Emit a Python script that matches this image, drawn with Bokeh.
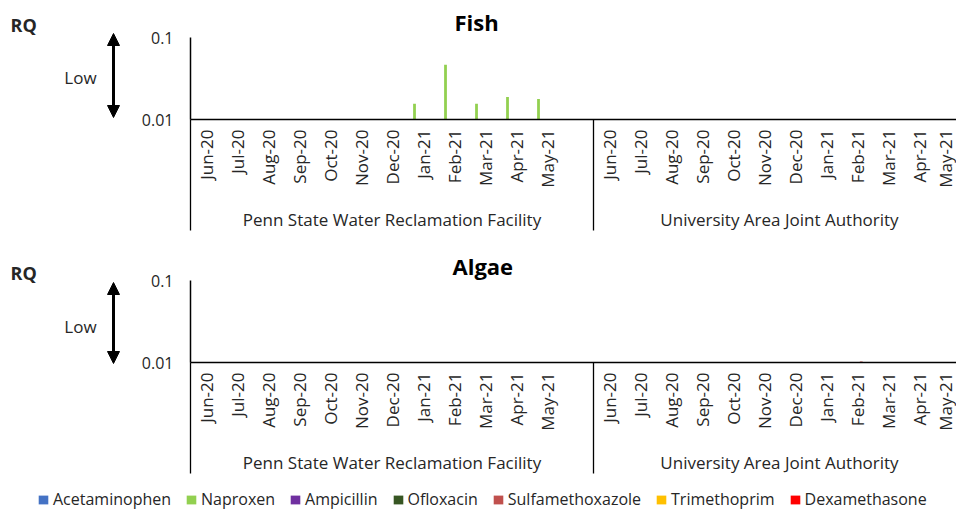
import math

from bokeh.embed import file_html
from bokeh.layouts import column, row
from bokeh.models import (Arrow, ColumnDataSource, FixedTicker, Legend,
                          LegendItem, LinearAxis, NormalHead, Range1d)
from bokeh.core.properties import value
from bokeh.plotting import figure
from bokeh.resources import INLINE

# ---------------------------------------------------------------- data
months = ["Jun-20", "Jul-20", "Aug-20", "Sep-20", "Oct-20", "Nov-20",
          "Dec-20", "Jan-21", "Feb-21", "Mar-21", "Apr-21", "May-21"]
facilities = ["Penn State Water Reclamation Facility",
              "University Area Joint Authority"]
compounds = ["Acetaminophen", "Naproxen", "Ampicillin", "Ofloxacin",
             "Sulfamethoxazole", "Trimethoprim", "Dexamethasone"]
colors = ["#4472C4", "#92D050", "#7030A0", "#375623",
          "#C0504D", "#FFC000", "#FF0000"]

# Risk quotients (RQ); None = below the 0.01 floor of the axis
fish_naproxen_pswrf = [None, None, None, None, None, None, None,
                       0.0156, 0.0464, 0.0156, 0.0188, 0.0178]
algae_sulfamethoxazole_uaja = [None, None, None, None, None, None, None,
                               None, 0.0103, None, None, None]

panels = [
    ("Fish", {("Naproxen", 0): fish_naproxen_pswrf}),
    ("Algae", {("Sulfamethoxazole", 1): algae_sulfamethoxazole_uaja}),
]

# ---------------------------------------------------------------- layout
FONT = "Open Sans"
TXT = "#262626"
SLOT_PX = 31            # width of one month slot
FRAME_W, FRAME_H = 766, 82
SIDE_W = 130            # width of the RQ / Low strip
LEFT, TOP, BOTTOM = 60, 37, 124
PANEL_H = TOP + FRAME_H + BOTTOM
X_START = -0.5
X_END = X_START + FRAME_W / SLOT_PX
GROUP_SLOTS = 13        # 12 months + spare slot per facility
BAR_W = 0.09
BAR_STEP = 0.137


def slot_x(fac, m):
    return fac * GROUP_SLOTS + m


def side_strip(ann):
    """RQ caption, 'Low' and the double-headed arrow, in pixel coordinates."""
    s = figure(width=SIDE_W, height=PANEL_H, min_border=0,
               x_range=Range1d(0, SIDE_W), y_range=Range1d(PANEL_H, 0),
               x_axis_type=None, y_axis_type=None, frame_align=False,
               output_backend="svg", toolbar_location=None)
    s.outline_line_color = None
    s.grid.visible = False
    s.text(x=[10], y=[ann["rq_y"]], text=["RQ"], text_font=value(FONT),
           text_font_style="bold", text_font_size="18px", text_color=TXT,
           text_align="left", text_baseline="middle")
    s.text(x=[80], y=[ann["low_y"]], text=["Low"], text_font=value(FONT),
           text_font_size="17px", text_color=TXT,
           text_align="center", text_baseline="middle")
    head = dict(size=12, fill_color="black", line_color="black", line_width=1)
    s.add_layout(Arrow(start=NormalHead(**head), end=NormalHead(**head),
                       x_start=113, y_start=ann["arrow_bot"],
                       x_end=113, y_end=ann["arrow_top"],
                       line_color="black", line_width=3))
    return s


def make_panel(title, series, ann):
    p = figure(frame_width=FRAME_W, frame_height=FRAME_H,
               min_border_left=LEFT, min_border_right=0,
               min_border_top=TOP, min_border_bottom=BOTTOM,
               x_range=Range1d(X_START, X_END), y_range=Range1d(0.01, 0.1),
               x_axis_type=None, y_axis_type="log",
               output_backend="svg", toolbar_location=None)
    p.outline_line_color = None

    p.title.text = title
    p.title.align = "left"
    p.title.offset = ann["title_offset"]
    p.title.standoff = ann["title_standoff"]
    p.title.text_font = FONT
    p.title.text_font_style = "bold"
    p.title.text_font_size = "22px"
    p.title.text_color = "black"

    # y axis: log scale, only 0.01 and 0.1
    ya = p.yaxis[0]
    ya.ticker = FixedTicker(ticks=[0.01, 0.1])
    ya.major_label_overrides = {0.01: "0.01", 0.1: "0.1"}
    ya.major_tick_out = 0
    ya.major_tick_in = 0
    ya.minor_tick_out = 0
    ya.minor_tick_in = 0
    ya.axis_line_color = "black"
    ya.axis_line_width = 1.5
    ya.major_label_standoff = 17
    ya.major_label_text_font = FONT
    ya.major_label_text_font_size = "16px"
    ya.major_label_text_color = TXT

    p.ygrid.ticker = FixedTicker(ticks=[0.1])
    p.ygrid.grid_line_color = "black"
    p.ygrid.grid_line_width = 1.5

    # month axis; long minor ticks mark the facility boundaries
    ticks, overrides = [], {}
    for f in range(len(facilities)):
        for m, name in enumerate(months):
            ticks.append(slot_x(f, m))
            overrides[slot_x(f, m)] = name
    bounds = [X_START + f * GROUP_SLOTS for f in range(len(facilities) + 1)]
    sep_len = 111
    mx = LinearAxis(ticker=FixedTicker(ticks=ticks, minor_ticks=bounds),
                    major_label_overrides=overrides,
                    major_label_orientation=math.pi / 2,
                    major_label_standoff=10 - sep_len,
                    major_tick_out=0, major_tick_in=0,
                    minor_tick_out=sep_len, minor_tick_in=0,
                    minor_tick_line_color="black", minor_tick_line_width=1.3,
                    axis_line_color="black", axis_line_width=1.5,
                    major_label_text_font=FONT,
                    major_label_text_font_size="17px",
                    major_label_text_color=TXT)
    p.add_layout(mx, "below")

    centers = [X_START + (f + 0.5) * GROUP_SLOTS - (0.5 if f == 1 else 0)
               for f in range(len(facilities))]
    gx = LinearAxis(ticker=FixedTicker(ticks=centers),
                    major_label_overrides={c: n for c, n in zip(centers, facilities)},
                    major_label_standoff=17,
                    major_tick_out=0, major_tick_in=0,
                    minor_tick_out=0, minor_tick_in=0,
                    axis_line_color=None,
                    major_label_text_font=FONT,
                    major_label_text_font_size="17px",
                    major_label_text_color=TXT)
    p.add_layout(gx, "below")

    # clustered bars: one slot per compound inside each month
    for (name, fac), vals in series.items():
        k = compounds.index(name)
        xs, tops = [], []
        for m, v in enumerate(vals):
            if v is not None:
                xs.append(slot_x(fac, m) + (k - 3) * BAR_STEP)
                tops.append(v)
        src = ColumnDataSource(dict(x=xs, top=tops, bottom=[0.01] * len(xs)))
        p.vbar(x="x", top="top", bottom="bottom", width=BAR_W, source=src,
               fill_color=colors[k], line_color=None)
    return row(side_strip(ann), p, spacing=0)


fish = make_panel("Fish", panels[0][1],
                  dict(title_offset=264, title_standoff=2, rq_y=24, low_y=77,
                       arrow_top=33, arrow_bot=117))
algae = make_panel("Algae", panels[1][1],
                   dict(title_offset=262, title_standoff=0, rq_y=29, low_y=83,
                        arrow_top=39, arrow_bot=120))

# ---------------------------------------------------------------- legend
LEG_H = 25
lf = figure(width=956, height=LEG_H, x_range=Range1d(0, 1), y_range=Range1d(0, 1),
            x_axis_type=None, y_axis_type=None, min_border=0, frame_align=False,
            output_backend="svg", toolbar_location=None)
lf.outline_line_color = None
lf.grid.visible = False
items = []
for name, c in zip(compounds, colors):
    # swatch-only renderer: a zero-height bar, so only its legend entry shows
    r = lf.vbar(x=[0.5], top=[0], bottom=[0], width=0.01,
                fill_color=c, line_color=None)
    items.append(LegendItem(label=name, renderers=[r]))
legend = Legend(items=items, orientation="horizontal", location=(37, 1),
                border_line_color=None, background_fill_alpha=0,
                label_text_font=FONT, label_text_font_size="16px",
                label_text_color=TXT, glyph_width=12, glyph_height=11,
                label_standoff=4, spacing=14, padding=0, margin=0)
lf.add_layout(legend, "center")

layout = column(fish, algae, lf, spacing=0)

with open("out.html", "w") as fh:
    fh.write(file_html(layout, INLINE))
